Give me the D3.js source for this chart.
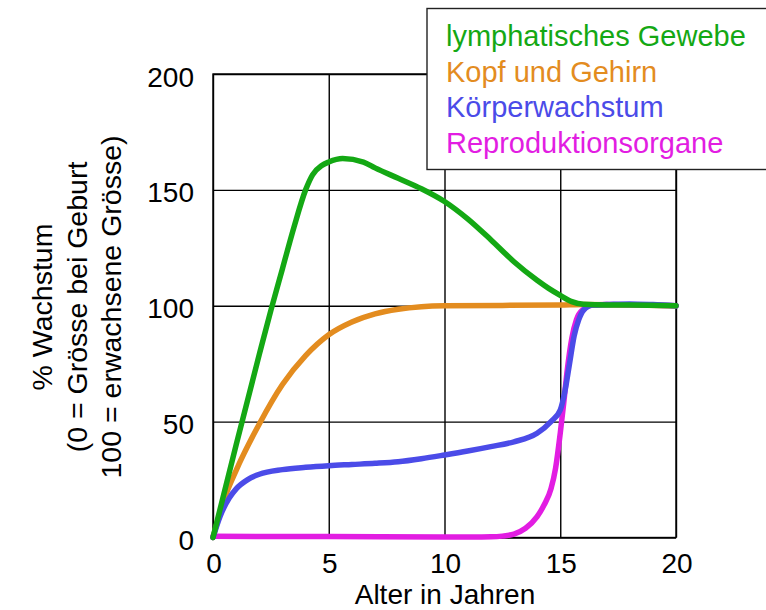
<!DOCTYPE html>
<html>
<head>
<meta charset="utf-8">
<script src="https://cdn.jsdelivr.net/npm/d3@7"></script>
<style>
  body { margin: 0; background: #fff; }
  svg { font-family: "Liberation Sans", Arial, sans-serif; }
</style>
</head>
<body>
<script>
// values: [age in years, % growth]
const lymph = [[0,0],[1,40],[2,79],[2.5,98],[3,116],[3.5,134],[4,150],[4.3,156.5],[4.7,160.5],[5,162],[5.6,163.5],[6.5,162],[7,159.5],[8,155],[9,150.5],[10,145],[11,137.5],[12,128.5],[13,119],[14,111],[14.5,107.5],[15,104.5],[15.5,101.8],[16,100.6],[17,100.3],[18,100.3],[20,100]];
const kopf = [[0,0],[0.5,17],[1,29],[2,49],[3,66],[4,78.5],[5,87.5],[6,93],[7,96.5],[8,98.5],[9,99.6],[10,100],[15,100.3],[16,100.5],[20,100]];
const koerper = [[0,0],[0.3,9],[0.7,17],[1,21],[1.5,25],[2,27.3],[3,29.3],[4,30.3],[5,31],[6,31.5],[7,32],[8,32.7],[9,34],[10,35.6],[11,37.3],[12,39.2],[13,41.3],[14,45],[14.6,50],[15,55],[15.2,63],[15.4,75],[15.6,87],[15.8,94],[16,98],[16.4,100.3],[17,100.5],[18,100.8],[19,100.5],[20,100]];
const repro = [[0,0.5],[5,0.4],[10,0.2],[12,0.3],[12.5,0.6],[13,1.5],[13.5,4],[14,9],[14.3,14],[14.6,21],[14.8,30],[15,45],[15.15,58],[15.3,72],[15.5,86],[15.7,94],[16,98.5],[16.4,100.3],[17,100.5],[20,100]];

const xTicks = [0, 5, 10, 15, 20];
const yTicks = [0, 50, 100, 150, 200];
const seriesNames = ["lymphatisches Gewebe", "Kopf und Gehirn", "Körperwachstum", "Reproduktionsorgane"];
const colors = ["#14a814", "#e38c1f", "#4b4be8", "#e21de2"];
const yLabel = ["% Wachstum", "(0 = Grösse bei Geburt", "100 = erwachsene Grösse)"];

const width = 766, height = 610;
const plotL = 213, plotR = 676, plotT = 74, plotB = 537.5;

const svg = d3.select("body").append("svg")
    .attr("width", width)
    .attr("height", height);

const x = d3.scaleLinear().domain([0, 20]).range([plotL, plotR]);
const y = d3.scaleLinear().domain([0, 200]).range([plotB, plotT]);

// grid
svg.append("g")
    .attr("transform", `translate(0,${plotB})`)
    .call(d3.axisBottom(x).tickValues(xTicks).tickSize(-(plotB - plotT)).tickFormat(""))
    .call(g => g.selectAll("line").attr("stroke", "#000").attr("stroke-width", 1.4))
    .call(g => g.select(".domain").remove());
svg.append("g")
    .attr("transform", `translate(${plotL},0)`)
    .call(d3.axisLeft(y).tickValues(yTicks).tickSize(-(plotR - plotL)).tickFormat(""))
    .call(g => g.selectAll("line").attr("stroke", "#000").attr("stroke-width", 1.4))
    .call(g => g.select(".domain").remove());

svg.append("rect")
    .attr("x", plotL).attr("y", plotT)
    .attr("width", plotR - plotL).attr("height", plotB - plotT)
    .attr("fill", "none").attr("stroke", "#000").attr("stroke-width", 1.4);

// tick labels
svg.append("g").selectAll("text")
    .data(xTicks).join("text")
    .attr("x", d => x(d) + 1)
    .attr("y", 573)
    .attr("text-anchor", "middle")
    .attr("font-size", 28)
    .text(d => d);
svg.append("g").selectAll("text")
    .data(yTicks).join("text")
    .attr("x", 194)
    .attr("y", d => y(d) + 12.5)
    .attr("text-anchor", "end")
    .attr("font-size", 28)
    .text(d => d);

svg.append("text")
    .attr("x", 445).attr("y", 604)
    .attr("text-anchor", "middle")
    .attr("font-size", 28)
    .text("Alter in Jahren");

yLabel.forEach((t, i) => {
    svg.append("text")
        .attr("transform", `translate(${52 + i * 34.5},307) rotate(-90)`)
        .attr("text-anchor", "middle")
        .attr("font-size", 28.5)
        .text(t);
});

// curves
const line = d3.line()
    .x(d => x(d[0]))
    .y(d => y(d[1]))
    .curve(d3.curveMonotoneX);

const series = [kopf, repro, koerper, lymph];
const seriesColors = [colors[1], colors[3], colors[2], colors[0]];
series.forEach((s, i) => {
    svg.append("path")
        .datum(s)
        .attr("d", line)
        .attr("fill", "none")
        .attr("stroke", seriesColors[i])
        .attr("stroke-width", 5.5)
        .attr("stroke-linecap", "round")
        .attr("stroke-linejoin", "round");
});

// legend
svg.append("rect")
    .attr("x", 427).attr("y", 8.5)
    .attr("width", 345).attr("height", 161)
    .attr("fill", "#fff").attr("stroke", "#222").attr("stroke-width", 1.4);

seriesNames.forEach((n, i) => {
    svg.append("text")
        .attr("x", 446)
        .attr("y", 46 + i * 35.5)
        .attr("font-size", 29)
        .attr("fill", colors[i])
        .text(n);
});
</script>
</body>
</html>
